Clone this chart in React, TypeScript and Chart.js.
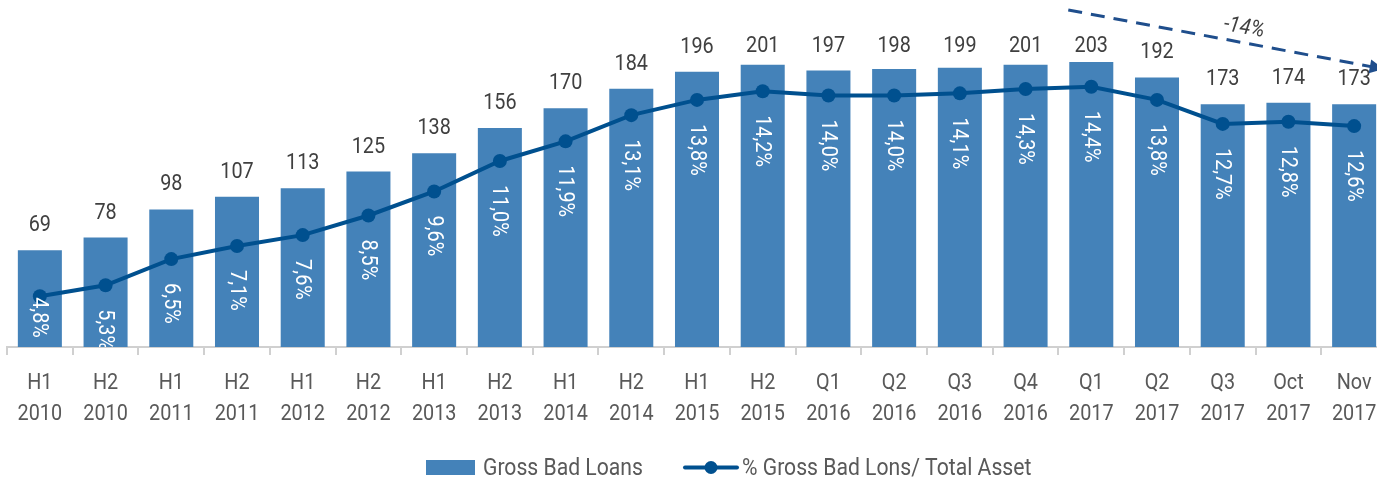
import React, { useEffect, useRef } from "react";
import { Chart, registerables } from "chart.js";

Chart.register(...registerables);

const periods = ["H1", "H2", "H1", "H2", "H1", "H2", "H1", "H2", "H1", "H2", "H1", "H2", "Q1", "Q2", "Q3", "Q4", "Q1", "Q2", "Q3", "Oct", "Nov"];
const years = ["2010", "2010", "2011", "2011", "2012", "2012", "2013", "2013", "2014", "2014", "2015", "2015", "2016", "2016", "2016", "2016", "2017", "2017", "2017", "2017", "2017"];
const grossBadLoans = [69, 78, 98, 107, 113, 125, 138, 156, 170, 184, 196, 201, 197, 198, 199, 201, 203, 192, 173, 174, 173];
const badLoansPct = [4.8, 5.3, 6.5, 7.1, 7.6, 8.5, 9.6, 11.0, 11.9, 13.1, 13.8, 14.2, 14.0, 14.0, 14.1, 14.3, 14.4, 13.8, 12.7, 12.8, 12.6];
const trendLabel = "-14%";
const barName = "Gross Bad Loans";
const lineName = "% Gross Bad Lons/ Total Asset";

const BAR_COLOR = "#4482B9";
const LINE_COLOR = "#00508F";
const ARROW_COLOR = "#1F4E8C";
const FONT = "Roboto, 'Noto Sans', sans-serif";
const SQUEEZE = 0.9;

type TextOpts = {
  size: number;
  color: string;
  align?: CanvasTextAlign;
  baseline?: CanvasTextBaseline;
  italic?: boolean;
  rotate?: number;
};

function drawText(ctx: CanvasRenderingContext2D, text: string, x: number, y: number, o: TextOpts) {
  ctx.save();
  ctx.translate(x, y);
  if (o.rotate) ctx.rotate(o.rotate);
  ctx.scale(SQUEEZE, 1);
  ctx.font = `${o.italic ? "italic " : ""}${o.size}px ${FONT}`;
  ctx.fillStyle = o.color;
  ctx.textAlign = o.align || "left";
  ctx.textBaseline = o.baseline || "alphabetic";
  ctx.fillText(text, 0, 0);
  ctx.restore();
}

function textWidth(ctx: CanvasRenderingContext2D, text: string, size: number) {
  ctx.save();
  ctx.font = `${size}px ${FONT}`;
  const w = ctx.measureText(text).width * SQUEEZE;
  ctx.restore();
  return w;
}

const labelsPlugin = {
  id: "customLabels",
  afterDatasetsDraw(chart: any) {
    const ctx: CanvasRenderingContext2D = chart.ctx;
    const area = chart.chartArea;
    const barMeta = chart.getDatasetMeta(0);
    const lineMeta = chart.getDatasetMeta(1);
    const xs = chart.scales.x;
    ctx.save();

    // x-axis category labels
    periods.forEach((p, i) => {
      const x = xs.getPixelForValue(i);
      drawText(ctx, p, x, area.bottom + 42, { size: 22, color: "#595959", align: "center" });
      drawText(ctx, years[i], x, area.bottom + 73, { size: 22, color: "#595959", align: "center" });
    });

    // bar value labels
    barMeta.data.forEach((bar: any, i: number) => {
      const y = Math.max(bar.y - 19, 52);
      drawText(ctx, String(grossBadLoans[i]), bar.x, y, { size: 22, color: "#404040", align: "center" });
    });

    // rotated percentage labels
    ctx.save();
    ctx.beginPath();
    ctx.rect(area.left, area.top, area.right - area.left, area.bottom - area.top);
    ctx.clip();
    lineMeta.data.forEach((pt: any, i: number) => {
      const txt = badLoansPct[i].toFixed(1).replace(".", ",") + "%";
      const w = textWidth(ctx, txt, 22);
      let start = pt.y + 24;
      if (start + w > area.bottom + 8) start = pt.y + 1;
      const bx = barMeta.data[i].x - 1;
      ctx.save();
      ctx.translate(bx, start);
      ctx.rotate(Math.PI / 2);
      drawText(ctx, txt, 0, 0, { size: 22, color: "#ffffff", align: "left", baseline: "middle" });
      ctx.restore();
    });
    ctx.restore();

    // trend arrow
    const step = xs.getPixelForValue(1) - xs.getPixelForValue(0);
    const x0 = xs.getPixelForValue(16) - 0.35 * step;
    const x1 = xs.getPixelForValue(20) + 0.45 * step;
    const y0 = 10;
    const slope = 0.187;
    const y1 = y0 + (x1 - x0) * slope;
    ctx.strokeStyle = ARROW_COLOR;
    ctx.lineWidth = 3;
    ctx.setLineDash([14, 9]);
    ctx.beginPath();
    ctx.moveTo(x0, y0);
    ctx.lineTo(x1 - 10, y1 - 10 * slope);
    ctx.stroke();
    ctx.setLineDash([]);
    ctx.fillStyle = ARROW_COLOR;
    ctx.save();
    ctx.translate(x1, y1);
    ctx.rotate(Math.atan(slope));
    ctx.beginPath();
    ctx.moveTo(0, 0);
    ctx.lineTo(-14, -7);
    ctx.lineTo(-14, 7);
    ctx.closePath();
    ctx.fill();
    ctx.restore();
    drawText(ctx, trendLabel, 1244, 28, { size: 22, color: "#404040", align: "center", baseline: "middle", italic: true, rotate: 0.17 });

    // legend
    const ly = 475;
    ctx.fillStyle = BAR_COLOR;
    ctx.fillRect(426, 460, 49, 15);
    drawText(ctx, barName, 483, ly, { size: 23.5, color: "#595959" });
    ctx.strokeStyle = LINE_COLOR;
    ctx.lineWidth = 4;
    ctx.lineCap = "round";
    ctx.beginPath();
    ctx.moveTo(685, 467.5);
    ctx.lineTo(737, 467.5);
    ctx.stroke();
    ctx.fillStyle = LINE_COLOR;
    ctx.beginPath();
    ctx.arc(711, 467.5, 6.5, 0, Math.PI * 2);
    ctx.fill();
    drawText(ctx, lineName, 742, ly, { size: 23.5, color: "#595959" });
    ctx.restore();
  },
};

export default function App() {
  const ref = useRef<HTMLCanvasElement | null>(null);
  useEffect(() => {
    if (!ref.current) return;
    const chart = new Chart(ref.current, {
      type: "bar",
      data: {
        labels: periods.map((p, i) => p + " " + years[i]),
        datasets: [
          {
            type: "bar",
            label: barName,
            data: grossBadLoans,
            backgroundColor: BAR_COLOR,
            barPercentage: 0.67,
            categoryPercentage: 1,
            yAxisID: "y",
            order: 2,
          },
          {
            type: "line",
            label: lineName,
            data: badLoansPct,
            borderColor: LINE_COLOR,
            backgroundColor: LINE_COLOR,
            borderWidth: 4,
            pointRadius: 7,
            pointBackgroundColor: LINE_COLOR,
            pointBorderWidth: 0,
            yAxisID: "y2",
            order: 1,
            tension: 0,
          } as any,
        ],
      },
      options: {
        responsive: false,
        animation: false,
        devicePixelRatio: 1,
        layout: { padding: { left: 7, right: 8, top: 0, bottom: 124 } },
        plugins: { legend: { display: false }, tooltip: { enabled: false } },
        scales: {
          x: {
            grid: {
              display: true,
              drawOnChartArea: false,
              drawTicks: true,
              tickLength: 8,
              color: "#d0d0d0",
              lineWidth: 2,
              offset: true,
            },
            border: { display: true, color: "#d0d0d0", width: 2 },
            ticks: { display: false, autoSkip: false },
          },
          y: { display: false, min: 0, max: 242.2 },
          y2: { display: false, min: 2.47, max: 18.06, position: "right" },
        },
      },
      plugins: [labelsPlugin],
    });
    return () => chart.destroy();
  }, []);
  return (
    <div style={{ position: "fixed", left: 0, top: 0, width: 1377, height: 479, overflow: "hidden", background: "#fff" }}>
      <canvas ref={ref} width={1395} height={479} style={{ width: 1395, height: 479, display: "block" }} />
    </div>
  );
}
